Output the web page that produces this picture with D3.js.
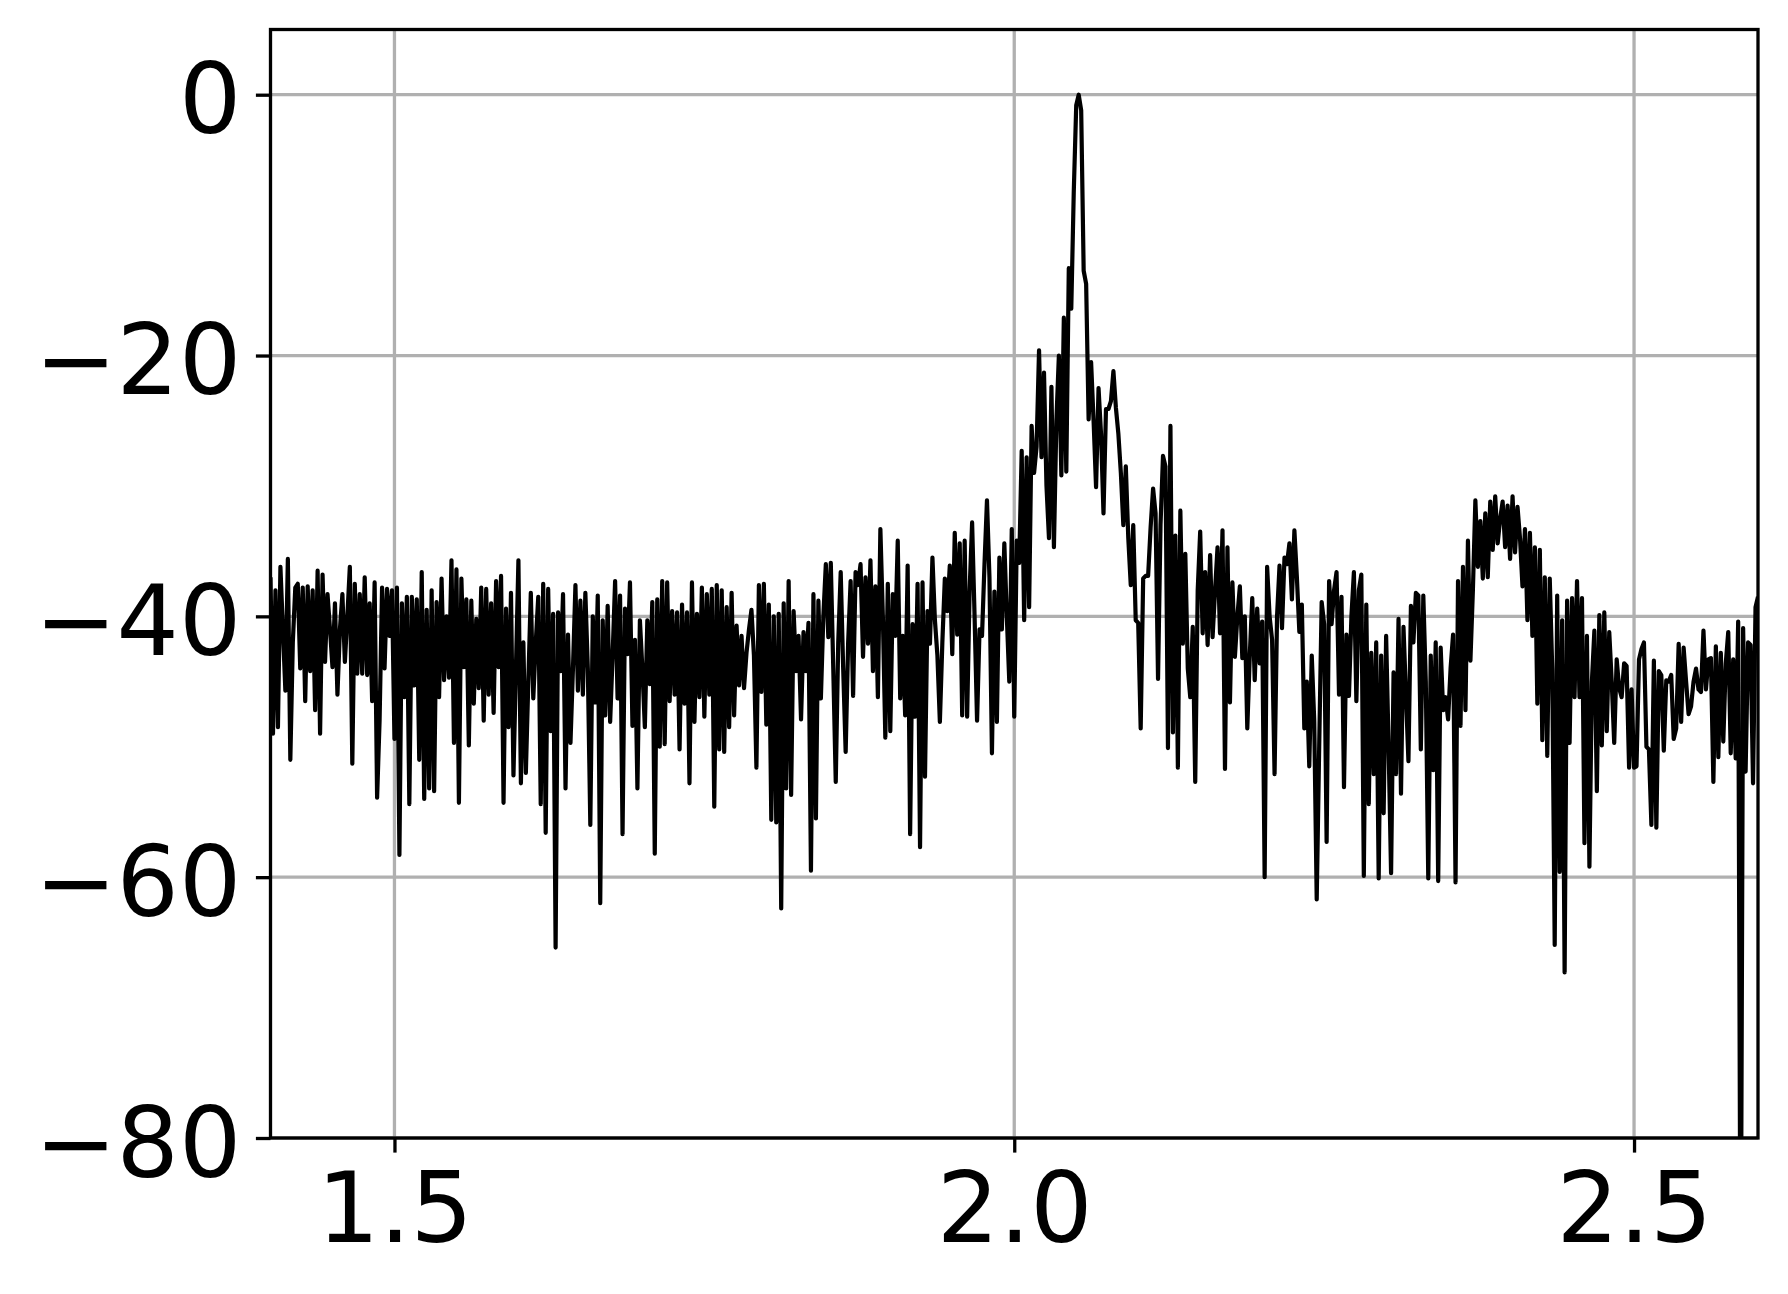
<!DOCTYPE html>
<html>
<head>
<meta charset="utf-8">
<script src="https://cdn.jsdelivr.net/npm/d3@7"></script>
<style>
  html, body { margin: 0; padding: 0; background: #fff; }
  svg { display: block; font-family: "DejaVu Sans", sans-serif; }
</style>
</head>
<body>
<svg id="chart" width="1788" height="1294"></svg>
<script>
// --- data
const FREQ_START = 1.4;
const FREQ_STEP = 0.002;

// level in dB, one value per sample, 10 per row
const levelDb = [
  -37, -49, -38, -48.5, -36.2, -41, -45.7, -35.6, -51, -42,
  -37.8, -37.5, -44, -37.8, -46.5, -37.7, -44.2, -38, -47.2, -36.5,
  -49, -36.8, -43.5, -38.3, -41, -43.9, -39, -46, -41, -38.3,
  -43.5, -40, -36.2, -51.3, -37.5, -44.4, -38.3, -44.4, -37, -44.5,
  -39, -46.5, -37.4, -53.9, -48, -37.8, -44, -37.9, -41.5, -38,
  -49.4, -37.8, -58.3, -39, -46.2, -38.5, -54.4, -38.5, -45.3, -38.7,
  -51, -36.6, -54, -39.5, -53.2, -38, -53.4, -38.9, -46.2, -37.1,
  -44.9, -40, -44.7, -35.7, -49.7, -36.4, -54.3, -37.1, -43.9, -38.7,
  -49.9, -38.8, -46.7, -40.2, -45.5, -37.8, -48, -37.9, -46, -39,
  -47.4, -37.3, -43.9, -36.9, -54.3, -39.4, -48.5, -38.2, -52.2, -44,
  // 100
  -35.7, -52.8, -42, -52, -45, -38.2, -46.3, -42, -38.5, -54.4,
  -37.5, -56.6, -37.9, -48.8, -39.8, -65.4, -39.7, -44.2, -38.3, -53.2,
  -41.4, -49.7, -44, -37.6, -45.7, -38.8, -46, -38.2, -44, -56,
  -40, -46.6, -38.4, -62, -40.3, -47.6, -39.2, -48.1, -43, -37.3,
  -46.3, -38.4, -56.7, -39.4, -42.9, -37.4, -48.4, -41.8, -53.2, -40.3,
  -44, -48.5, -40.3, -45.2, -38.9, -58.2, -38.7, -50, -37.3, -49.8,
  -37.4, -46.5, -39.6, -46, -39.7, -50.2, -39.1, -46.7, -39.7, -52.8,
  -37.4, -48.1, -39.8, -46.2, -37.8, -47.7, -38.3, -46, -37.9, -54.6,
  -37.6, -50.2, -38, -50.4, -39.3, -48.5, -38.2, -47.6, -40.7, -45.3,
  -41.5, -45.5, -42.8, -41, -39.5, -43, -51.6, -37.6, -45.8, -37.5,
  // 200
  -48.3, -39.1, -55.6, -40, -55.8, -39.8, -62.4, -39, -53.2, -37.3,
  -53.7, -39.6, -44.2, -41.5, -47.9, -41.2, -44.2, -40.5, -59.5, -38.3,
  -55.5, -38.8, -46.3, -40, -36, -41.6, -35.9, -44, -52.7, -42,
  -36.6, -44, -50.4, -42, -37.3, -46.1, -36.6, -37.6, -36, -43.1,
  -37, -42.1, -35.7, -44.2, -37.7, -46.2, -33.3, -40, -49.3, -37.5,
  -48.8, -38.3, -41.5, -34.2, -46.3, -41.5, -47.6, -36.1, -56.7, -40.6,
  -47.7, -37.5, -57.7, -37.4, -52.3, -39.6, -42.1, -35.5, -40.3, -43,
  -48.1, -42, -37.1, -39.6, -36.1, -42.9, -33.6, -41.4, -34.4, -47.6,
  -34.2, -47.7, -38, -32.8, -40, -48, -41, -41.5, -36, -31.1,
  -37, -50.5, -38.1, -48.1, -35.5, -41, -34.4, -40, -45, -33.3,
  // 300
  -47.7, -34.2, -35.9, -27.3, -40.3, -27.8, -39.3, -25.4, -29, -27,
  -19.6, -27.8, -21.3, -30, -34, -22.4, -34.7, -25, -20, -29.2,
  -17.1, -28.9, -13.3, -16.4, -7.5, -0.8, 0, -1.2, -13.5, -14.5,
  -24.9, -20.5, -25, -30.1, -22.5, -26, -32.1, -24.1, -24.1, -23.5,
  -21.2, -24, -26, -29, -33, -28.5, -34, -37.6, -33, -40.3,
  -40.5, -48.6, -37.1, -36.9, -36.9, -33.2, -30.2, -32.1, -44.8, -33,
  -27.7, -28.5, -50.1, -25.4, -48.9, -33.8, -51.6, -31.9, -42.1, -35.2,
  -44, -46.2, -40.8, -52.7, -38, -33.5, -41.3, -36.6, -42.2, -35.3,
  -41.6, -38, -34.7, -41.3, -33.4, -51.7, -34.7, -46.6, -37.4, -43.1,
  -40, -37.7, -43.2, -40, -48.6, -43, -38.6, -44.9, -39.4, -43.6,
  // 400
  -40.4, -60, -36.2, -40, -41.8, -52.1, -40, -36.1, -40.9, -35.5,
  -36, -34.4, -38.7, -33.4, -37, -41.2, -39.1, -48.6, -45, -51.5,
  -43, -48, -61.7, -50, -38.9, -40.6, -57.3, -37.3, -40.6, -38,
  -36.6, -46, -38.5, -53.1, -41.4, -46.1, -40, -36.6, -46.5, -38,
  -36.8, -59.9, -39.1, -54.4, -42.8, -52.1, -42, -60.1, -43, -55.1,
  -41.5, -50, -59.7, -44.3, -52.1, -40.2, -53.6, -40.8, -46, -51.1,
  -39.2, -42, -38.2, -38.4, -50.2, -38.4, -45, -60.1, -43, -51.8,
  -42, -60.3, -42.4, -47.2, -46.2, -47.9, -44, -41.4, -60.4, -37.3,
  -48.4, -36.2, -47.2, -34.2, -43.4, -38, -31.1, -36.2, -32.7, -37.1,
  -32.1, -37, -31.2, -34.9, -30.8, -34.4, -32.5, -31.2, -34.7, -31.5,
  // 500
  -35.6, -30.8, -35.1, -31.6, -34, -37.7, -33.3, -40.3, -33.6, -41.5,
  -34.7, -46.7, -34.9, -49.5, -37, -50.7, -37.1, -44, -65.2, -38.4,
  -59.6, -40.3, -67.3, -38.8, -49.7, -38.6, -46.2, -37.3, -46.2, -38.6,
  -57.4, -41.5, -59.2, -45, -41.1, -53.4, -39.9, -49.9, -39.7, -48.8,
  -41.2, -45, -49.7, -43.3, -45.5, -46.2, -43.6, -43.8, -51.6, -45.6,
  -51.6, -51.5, -43.3, -42.5, -42, -50, -50.2, -56, -43.4, -56.2,
  -44.2, -44.5, -50.3, -44.9, -45, -44.5, -49.4, -48.6, -42.1, -48.1,
  -42.4, -45, -47.5, -46.9, -45, -44, -45.6, -45.8, -41.1, -45.6,
  -43.3, -43.2, -52.7, -42.3, -50.8, -42.8, -49.6, -43.6, -41.2, -50.5,
  -43.3, -50.9, -40.4, -95, -40.9, -51.9, -42, -42.2, -52.8, -39.3,
  // 600
  -38.5
];

const xDomain = [1.4, 2.6];
const yDomain = [-80, 5];
const xTicks = [1.5, 2.0, 2.5];
const yTicks = [0, -20, -40, -60, -80];

const WIDTH = 1788;
const HEIGHT = 1294;

class Chart {
  constructor(el) {
    this.svg = d3.select(el);
    this.config = this.getConfig();
    this.data = levelDb.map((v, idx) => ({ x: FREQ_START + idx * FREQ_STEP, y: v }));
  }

  getConfig() {
    const margin = { top: 29.5, right: 30, bottom: 156, left: 270.5 };
    const w = WIDTH - margin.left - margin.right;
    const h = HEIGHT - margin.top - margin.bottom;

    const x = d3.scaleLinear().domain(xDomain).range([0, w]);
    const y = d3.scaleLinear().domain(yDomain).range([h, 0]);

    // matplotlib-ish sizes at 300 dpi
    return {
      margin, w, h, x, y,
      fontSize: 98,
      tickLen: 14.6,
      tickPad: 14.6,
      spineWidth: 3.3,
      gridWidth: 3.3,
      lineWidth: 4.2
    };
  }

  drawGrid() {
    const { x, y, w, h, gridWidth } = this.config;
    const grid = this.group.append('g').classed('grid', true)
      .attr('stroke', '#b0b0b0')
      .attr('stroke-width', gridWidth);

    grid.selectAll('.gx')
      .data(xTicks)
      .enter()
      .append('line')
      .attr('x1', d => x(d)).attr('x2', d => x(d))
      .attr('y1', 0).attr('y2', h);

    grid.selectAll('.gy')
      .data(yTicks)
      .enter()
      .append('line')
      .attr('x1', 0).attr('x2', w)
      .attr('y1', d => y(d)).attr('y2', d => y(d));
  }

  drawLine() {
    const { x, y, w, h, lineWidth } = this.config;

    this.svg.append('defs').append('clipPath')
      .attr('id', 'plotClip')
      .append('rect')
      .attr('width', w)
      .attr('height', h);

    const line = d3.line()
      .x(d => x(d.x))
      .y(d => y(d.y));

    this.group.append('path')
      .datum(this.data)
      .attr('clip-path', 'url(#plotClip)')
      .attr('fill', 'none')
      .attr('stroke', '#000')
      .attr('stroke-width', lineWidth)
      .attr('stroke-linejoin', 'round')
      .attr('d', line);
  }

  drawAxes() {
    const { x, y, w, h, fontSize, tickLen, tickPad, spineWidth } = this.config;

    const xAxis = d3.axisBottom(x)
      .tickValues(xTicks)
      .tickFormat(d3.format('.1f'))
      .tickSize(tickLen)
      .tickPadding(tickPad);

    const yAxis = d3.axisLeft(y)
      .tickValues(yTicks)
      .tickFormat(d3.format('d'))
      .tickSize(tickLen)
      .tickPadding(tickPad);

    const gx = this.group.append('g')
      .attr('transform', `translate(0, ${h})`)
      .call(xAxis);

    const gy = this.group.append('g')
      .call(yAxis);

    [gx, gy].forEach(g => {
      g.select('.domain').remove();
      g.selectAll('.tick line')
        .attr('stroke', '#000')
        .attr('stroke-width', spineWidth);
      g.selectAll('.tick text')
        .attr('fill', '#000')
        .style('font-family', '"DejaVu Sans", sans-serif')
        .style('font-size', fontSize + 'px');
    });

    // baseline placement like matplotlib
    gx.selectAll('.tick text')
      .attr('y', tickLen + tickPad)
      .attr('dy', '0.76em');
    gy.selectAll('.tick text')
      .attr('x', -(tickLen + tickPad))
      .attr('dy', '0.39em');

    // frame (spines) on top
    this.group.append('rect')
      .attr('width', w)
      .attr('height', h)
      .attr('fill', 'none')
      .attr('stroke', '#000')
      .attr('stroke-width', spineWidth);
  }

  init() {
    this.svg.append('rect')
      .attr('width', WIDTH)
      .attr('height', HEIGHT)
      .attr('fill', '#fff');

    this.group = this.svg.append('g')
      .attr('transform', `translate(${this.config.margin.left}, ${this.config.margin.top})`);

    this.drawGrid();
    this.drawLine();
    this.drawAxes();
  }
}

const chart = new Chart('#chart');
chart.init();
</script>
</body>
</html>
